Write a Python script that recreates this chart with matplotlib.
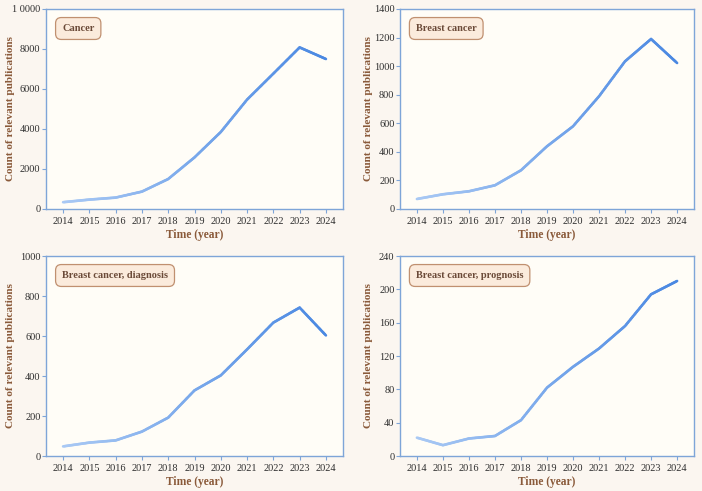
import numpy as np
import matplotlib
matplotlib.use("Agg")
import matplotlib.pyplot as plt
from matplotlib.collections import LineCollection
from matplotlib.colors import LinearSegmentedColormap

years = [2014, 2015, 2016, 2017, 2018, 2019, 2020, 2021, 2022, 2023, 2024]
cancer = [340, 470, 570, 870, 1500, 2580, 3850, 5470, 6770, 8080, 7500]
breast = [70, 103, 124, 166, 271, 439, 579, 789, 1034, 1190, 1022]
diagnosis = [48, 67, 78, 122, 192, 328, 403, 533, 667, 742, 603]
prognosis = [22, 13, 21, 24, 43, 82, 107, 129, 156, 194, 210]

titles = ["Cancer", "Breast cancer", "Breast cancer, diagnosis", "Breast cancer, prognosis"]
series = [cancer, breast, diagnosis, prognosis]
yticks = [[0, 2000, 4000, 6000, 8000, 10000],
          [0, 200, 400, 600, 800, 1000, 1200, 1400],
          [0, 200, 400, 600, 800, 1000],
          [0, 40, 80, 120, 160, 200, 240]]
ytick_labels = [["0", "2000", "4000", "6000", "8000", "1 0000"],
                ["0", "200", "400", "600", "800", "1000", "1200", "1400"],
                ["0", "200", "400", "600", "800", "1000"],
                ["0", "40", "80", "120", "160", "200", "240"]]

plt.rcParams['font.family'] = ['Liberation Serif', 'DejaVu Serif']

fig = plt.figure(figsize=(7.02, 4.91), dpi=100, facecolor='#FBF6F0')
W, H = 702, 491
# axes boxes in pixels: left, top, right, bottom
boxes = [(46, 9, 343, 209), (400, 9, 694, 209), (46, 256, 343, 456), (400, 256, 694, 456)]
ylabel_x = [15, 373, 15, 373]

cmap = LinearSegmentedColormap.from_list("bl", ["#A9C9F4", "#4A88E2"])
spine_col = '#7EA5D8'
label_col = '#8A5A3A'

for i in range(4):
    l, t, r, b = boxes[i]
    ax = fig.add_axes([l / W, 1 - b / H, (r - l) / W, (b - t) / H])
    ax.set_facecolor('#FFFDF7')
    x = np.array(years, dtype=float)
    y = np.array(series[i], dtype=float)
    xs, ys = [], []
    for k in range(len(x) - 1):
        tt = np.linspace(0, 1, 20, endpoint=False)
        xs.extend(x[k] + (x[k + 1] - x[k]) * tt)
        ys.extend(y[k] + (y[k + 1] - y[k]) * tt)
    xs.append(x[-1]); ys.append(y[-1])
    pts = np.array([xs, ys]).T.reshape(-1, 1, 2)
    segs = np.concatenate([pts[:-1], pts[1:]], axis=1)
    lc = LineCollection(segs, cmap=cmap, linewidths=1.9, capstyle='round', joinstyle='round')
    lc.set_array(np.linspace(0, 1, len(segs)))
    ax.add_collection(lc)
    ax.set_xlim(2014 - 0.65, 2024 + 0.65)
    ax.set_ylim(yticks[i][0], yticks[i][-1])
    ax.set_xticks(years)
    ax.set_xticklabels([str(v) for v in years])
    ax.set_yticks(yticks[i])
    ax.set_yticklabels(ytick_labels[i])
    for s in ax.spines.values():
        s.set_color(spine_col)
        s.set_linewidth(1.0)
    ax.tick_params(axis='both', colors=spine_col, labelcolor='#2E2E2E', labelsize=7.4,
                   direction='out', length=3, width=0.8)
    ax.tick_params(axis='x', pad=3)
    ax.tick_params(axis='y', pad=1)
    ax.set_xlabel("Time (year)", fontsize=8.3, fontweight='bold', color=label_col, labelpad=2)
    ax.set_ylabel("Count of relevant publications", fontsize=8.1, fontweight='bold',
                  color=label_col)
    ax.yaxis.set_label_coords(-(l - ylabel_x[i]) / (r - l), 0.5)
    ax.text(0.054, 0.9025, titles[i], transform=ax.transAxes, fontsize=7.5, fontweight='bold',
            color='#6B4A38', va='center', ha='left',
            bbox=dict(boxstyle='round,pad=0.62,rounding_size=0.55', facecolor='#FBEBDC',
                      edgecolor='#C09070', linewidth=0.9))

fig.savefig("out.png", dpi=100, facecolor=fig.get_facecolor())
